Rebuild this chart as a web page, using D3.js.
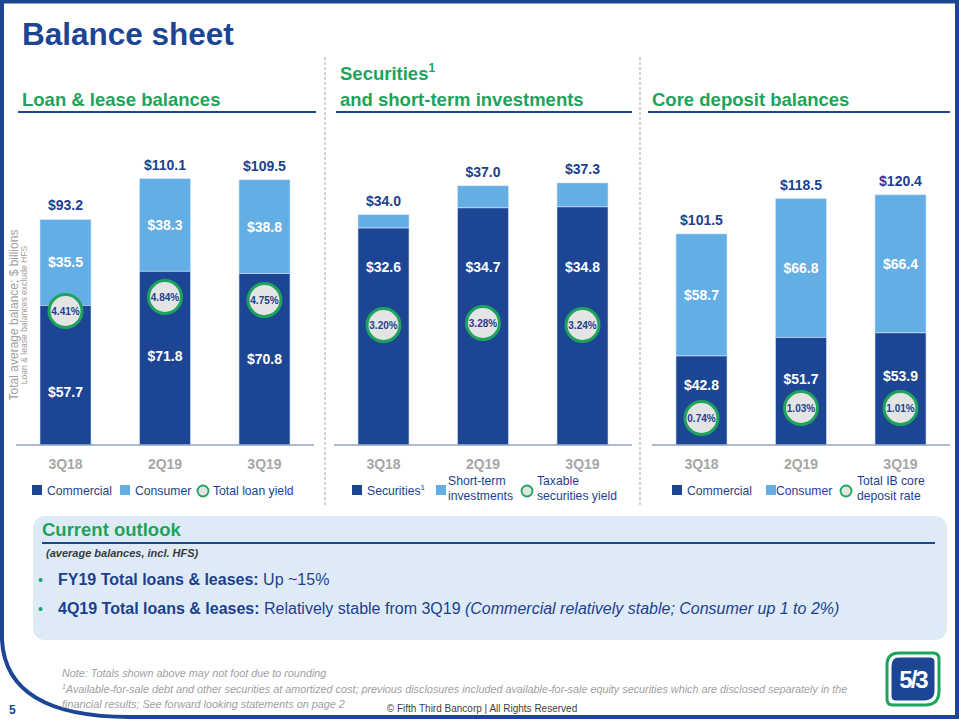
<!DOCTYPE html>
<html><head><meta charset="utf-8">
<script src="https://cdn.jsdelivr.net/npm/d3@7"></script>
<style>
body{margin:0;background:#fff;}
svg{display:block;font-family:"Liberation Sans",Arial,sans-serif;}
</style></head>
<body><svg id="c" width="960" height="720"></svg>
<script>
// ---- data ----
const categories = ["3Q18","2Q19","3Q19"];
const loanCommercial = [57.7, 71.8, 70.8];
const loanConsumer   = [35.5, 38.3, 38.8];
const loanTotal      = ["$93.2","$110.1","$109.5"];
const loanYield      = ["4.41%","4.84%","4.75%"];
const secSecurities  = [32.6, 34.7, 34.8];
const secShortTerm   = [1.4, 2.3, 2.5];
const secTotal       = ["$34.0","$37.0","$37.3"];
const secYield       = ["3.20%","3.28%","3.24%"];
const depCommercial  = [42.8, 51.7, 53.9];
const depConsumer    = [58.7, 66.8, 66.4];
const depTotal       = ["$101.5","$118.5","$120.4"];
const depRate        = ["0.74%","1.03%","1.01%"];

const DARK="#1c4594", LIGHT="#64aee6", GREEN="#1ea35c", TXT="#1d3f8f", GRAY="#a6a6a6";
const svg=d3.select("#c");

// frame
svg.append("path").attr("d","M2,0 L2,640 Q6,717 130,717 L957,717 L957,1.5 L2,1.5")
  .attr("fill","none").attr("stroke","#1c4594").attr("stroke-width",4);

// title
svg.append("text").attr("x",22).attr("y",45).attr("font-size",31.5).attr("font-weight","bold")
  .attr("fill",DARK).text("Balance sheet");

// separators
[325,640].forEach(x=>svg.append("line").attr("x1",x).attr("x2",x).attr("y1",57).attr("y2",505)
  .attr("stroke","#b5b5b5").attr("stroke-width",1.2).attr("stroke-dasharray","3,2"));

function header(lines,x,y,x2){
  lines.forEach((l,i)=>{
    const t=svg.append("text").attr("x",x).attr("y",y-(lines.length-1-i)*26).attr("font-size",18.5)
      .attr("font-weight","bold").attr("fill",GREEN);
    if(Array.isArray(l)){ t.append("tspan").text(l[0]); t.append("tspan").attr("font-size",12).attr("dy",-8).text(l[1]); }
    else t.text(l);
  });
  svg.append("line").attr("x1",x-4).attr("x2",x2).attr("y1",y+6).attr("y2",y+6).attr("stroke",DARK).attr("stroke-width",2);
}
header(["Loan & lease balances"],22,106,316);
header([["Securities","1"],"and short-term investments"],340,106,632);
header(["Core deposit balances"],652,106,950);

// y-axis title
const yt=svg.append("g").attr("transform","translate(18,315) rotate(-90)");
yt.append("text").attr("text-anchor","middle").attr("font-size",12).attr("fill","#a0a0a0").text("Total average balance; $ billions");
yt.append("text").attr("text-anchor","middle").attr("y",9).attr("font-size",8.6).attr("fill","#a0a0a0").text("Loan & lease balances exclude HFS");

function chart(o){
  const x=d3.scaleBand().domain(categories).range(o.xr).paddingInner(0.487).paddingOuter(0.241);
  const y=d3.scaleLinear().domain([o.ymin,o.ymax]).range([445,445-(o.ymax-o.ymin)*o.ppu]);
  const g=svg.append("g");
  categories.forEach((c,i)=>{
    const a=o.bottom[i], b=o.top[i];
    g.append("rect").attr("x",x(c)).attr("width",x.bandwidth()).attr("y",y(a+b)).attr("height",y(a)-y(a+b))
      .attr("fill",LIGHT).attr("stroke","#d9e8f7").attr("stroke-width",0.6);
    g.append("rect").attr("x",x(c)).attr("width",x.bandwidth()).attr("y",y(a)).attr("height",y(o.ymin)-y(a))
      .attr("fill",DARK).attr("stroke","#d9e8f7").attr("stroke-width",0.6);
    const cx=x(c)+x.bandwidth()/2;
    g.append("text").attr("x",cx).attr("y",y(a+b)-9).attr("text-anchor","middle").attr("font-size",14)
      .attr("font-weight","bold").attr("fill",TXT).text(o.totals[i]);
    if(o.topLabel) g.append("text").attr("x",cx).attr("y",(y(a+b)+y(a))/2).attr("dy","0.35em").attr("text-anchor","middle")
      .attr("font-size",14).attr("font-weight","bold").attr("fill","#fff").text("$"+b.toFixed(1));
    g.append("text").attr("x",cx).attr("y",o.botLabelY[i]).attr("dy","0.35em").attr("text-anchor","middle")
      .attr("font-size",14).attr("font-weight","bold").attr("fill","#fff").text("$"+a.toFixed(1));
    g.append("circle").attr("cx",cx).attr("cy",o.circY[i]).attr("r",16.5).attr("fill","#e4e4e4")
      .attr("stroke",GREEN).attr("stroke-width",3);
    g.append("text").attr("x",cx).attr("y",o.circY[i]).attr("dy","0.35em").attr("text-anchor","middle")
      .attr("font-size",10).attr("font-weight","bold").attr("fill",TXT).text(o.rates[i]);
  });
  const ax=g.append("g").attr("transform","translate(0,445)").call(d3.axisBottom(x).tickSize(0).tickPadding(14));
  ax.select(".domain").attr("d",`M${o.xr[0]},0H${o.xr[1]}`).attr("stroke","#8fa3c2").attr("stroke-width",1.5);
  ax.selectAll("text").attr("font-size",14).attr("font-weight","bold").attr("fill",GRAY)
    .attr("font-family","Liberation Sans, Arial, sans-serif");
}
chart({xr:[16,314],ymin:0,ymax:120,ppu:2.42,bottom:loanCommercial,top:loanConsumer,totals:loanTotal,rates:loanYield,
  topLabel:true,botLabelY:[392,356,359],circY:[311,297,300]});
chart({xr:[334,632],ymin:10,ymax:40,ppu:9.6,bottom:secSecurities,top:secShortTerm,totals:secTotal,rates:secYield,
  topLabel:false,botLabelY:[267,267,267],circY:[325,323,325]});
chart({xr:[652,950],ymin:0,ymax:130,ppu:2.08,bottom:depCommercial,top:depConsumer,totals:depTotal,rates:depRate,
  topLabel:true,botLabelY:[385,379,376],circY:[418,408,408]});

// legends
function legend(items){
  items.forEach(it=>{
    if(it.type==="circle") svg.append("circle").attr("cx",it.x).attr("cy",491).attr("r",5.5).attr("fill","#e4e4e4").attr("stroke",GREEN).attr("stroke-width",1.8);
    else svg.append("rect").attr("x",it.x).attr("y",485).attr("width",10).attr("height",10).attr("fill",it.color);
    const t=svg.append("text").attr("x",it.tx).attr("font-size",12.2).attr("fill",TXT);
    if(it.lines.length===1){
      t.attr("y",495);
      t.append("tspan").text(it.lines[0]);
      if(it.sup) t.append("tspan").attr("font-size",8).attr("dy",-5).text(it.sup);
    } else {
      it.lines.forEach((l,i)=>t.append("tspan").attr("x",it.tx).attr("y",485+i*15).text(l));
    }
  });
}
legend([{x:32,tx:47,color:DARK,lines:["Commercial"]},{x:120,tx:135,color:LIGHT,lines:["Consumer"]},
  {x:203,tx:213,type:"circle",lines:["Total loan yield"]}]);
legend([{x:352,tx:367,color:DARK,lines:["Securities"],sup:"1"},{x:436,tx:448,color:LIGHT,lines:["Short-term","investments"]},
  {x:527,tx:537,type:"circle",lines:["Taxable","securities yield"]}]);
legend([{x:672,tx:687,color:DARK,lines:["Commercial"]},{x:766,tx:776,color:LIGHT,lines:["Consumer"]},
  {x:846,tx:857,type:"circle",lines:["Total IB core","deposit rate"]}]);

// outlook box
svg.append("rect").attr("x",33).attr("y",516).attr("width",914).attr("height",124).attr("rx",12).attr("fill","#deebf7");
svg.append("text").attr("x",42).attr("y",536).attr("font-size",18.5).attr("font-weight","bold").attr("fill",GREEN).text("Current outlook");
svg.append("line").attr("x1",42).attr("x2",935).attr("y1",543).attr("y2",543).attr("stroke",DARK).attr("stroke-width",2);
svg.append("text").attr("x",46).attr("y",557).attr("font-size",11).attr("font-weight","bold").attr("font-style","italic")
  .attr("fill","#3a3a3a").text("(average balances, incl. HFS)");
function bullet(y,parts){
  svg.append("text").attr("x",38).attr("y",y).attr("font-size",14).attr("fill",GREEN).text("•");
  const t=svg.append("text").attr("x",58).attr("y",y).attr("font-size",16).attr("fill",TXT);
  parts.forEach(p=>{const s=t.append("tspan").text(p.t); if(p.b) s.attr("font-weight","bold"); if(p.i) s.attr("font-style","italic");});
}
bullet(585,[{t:"FY19 Total loans & leases:",b:true},{t:" Up ~15%"}]);
bullet(614,[{t:"4Q19 Total loans & leases:",b:true},{t:" Relatively stable from 3Q19 "},{t:"(Commercial relatively stable; Consumer up 1 to 2%)",i:true}]);

// footnotes
const fn=svg.append("g").attr("font-size",10.8).attr("font-style","italic").attr("fill","#a0a0a0");
fn.append("text").attr("x",62).attr("y",677).text("Note: Totals shown above may not foot due to rounding");
const f2=fn.append("text").attr("x",62).attr("y",693);
f2.append("tspan").attr("font-size",7).attr("dy",-4).text("1");
f2.append("tspan").attr("dy",4).text("Available-for-sale debt and other securities at amortized cost; previous disclosures included available-for-sale equity securities which are disclosed separately in the");
fn.append("text").attr("x",62).attr("y",708).text("financial results; See forward looking statements on page 2");
svg.append("text").attr("x",482).attr("y",712).attr("text-anchor","middle").attr("font-size",10).attr("fill","#404040")
  .text("© Fifth Third Bancorp | All Rights Reserved");
svg.append("text").attr("x",9).attr("y",714).attr("font-size",12).attr("font-weight","bold").attr("fill",DARK).text("5");

// logo
const lg=svg.append("g").attr("transform","translate(887,653)");
lg.append("path").attr("d","M12,0 H46 Q52,0 52,6 V38 Q52,52 38,52 H6 Q0,52 0,46 V12 Q0,0 12,0 Z").attr("fill","#fff").attr("stroke",GREEN).attr("stroke-width",3);
lg.append("path").attr("d","M12,4.5 H43 Q47.5,4.5 47.5,9 V37 Q47.5,47.5 37,47.5 H9 Q4.5,47.5 4.5,43 V13 Q4.5,4.5 12,4.5 Z").attr("fill",DARK);
lg.append("text").attr("x",26).attr("y",35).attr("text-anchor","middle").attr("font-size",24).attr("font-weight","bold")
  .attr("fill","#fff").attr("letter-spacing",-2).text("5/3");
</script></body></html>
